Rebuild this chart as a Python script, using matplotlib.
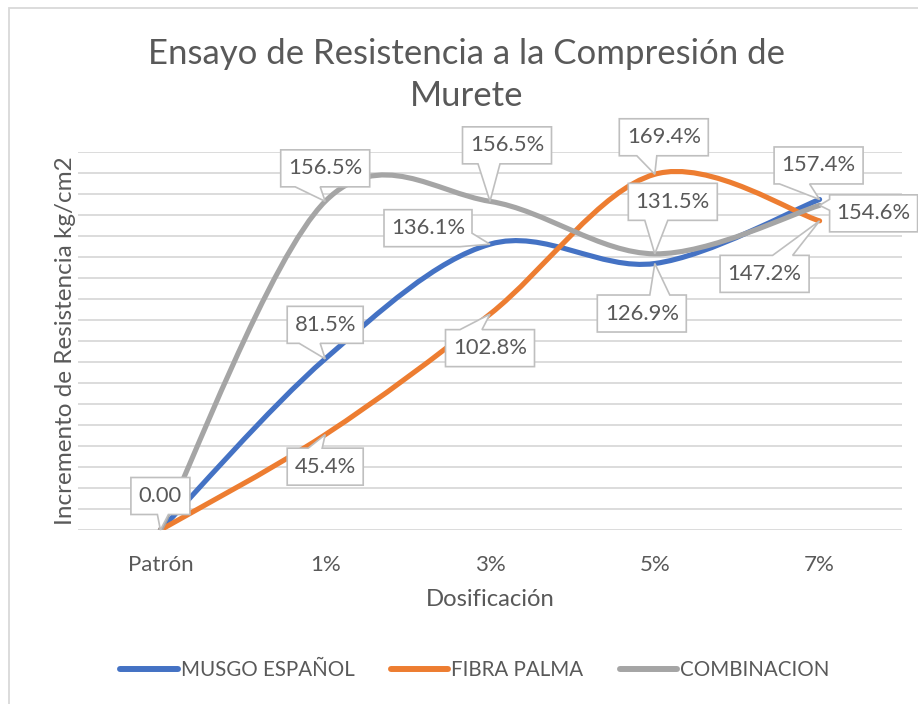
import numpy as np
import matplotlib.pyplot as plt
import matplotlib.transforms as mtransforms
from matplotlib.path import Path
from matplotlib.patches import PathPatch, Polygon, Rectangle
from matplotlib.lines import Line2D

plt.rcParams["font.family"] = ["Lato", "DejaVu Sans"]

# %% data
categories = ["Patrón", "1%", "3%", "5%", "7%"]
musgo = [0.0, 81.5, 136.1, 126.9, 157.4]
fibra = [0.0, 45.4, 102.8, 169.4, 147.2]
combinacion = [0.0, 156.5, 156.5, 131.5, 154.6]

series_names = ["MUSGO ESPAÑOL", "FIBRA PALMA", "COMBINACION"]
series_colors = ["#4472C4", "#ED7D31", "#A5A5A5"]

TXT = "#595959"
GRID = "#D9D9D9"

# callout layout, in pixels relative to the point (y up):
# (box centre dx, dy, width, pointer spec)
callouts = [
    # musgo
    [None,
     (0, 34, 76, ("b", -26, -5)),
     (-62, 16, 88, ("br", 11, -30)),
     (-13, -50, 89, ("t", -5, 15)),
     (-1, 34, 89, ("b", -40, -10))],
    # fibra
    [None,
     (0, -32, 76, ("t", -17, -3)),
     (0, -34, 89, ("t", -30, -8)),
     (9, 37, 89, ("b", -18, 2)),
     (-55, -53, 89, ("t", -47, -27))],
    # combinacion
    [(0, 34, 59, ("b", -3, 8)),
     (0, 33, 89, ("b", -30, -5)),
     (17, 56, 89, ("b", -12, 10)),
     (18, 52, 89, ("b", -10, 13)),
     (54, -8, 88, ("l", -5, 6))],
]
BOX_H = 37


def smooth_path(x, y):
    # excel-like smoothed line as cubic bezier segments
    pts = np.column_stack([x, y]).astype(float)
    n = len(pts)
    verts = [pts[0]]
    codes = [Path.MOVETO]
    for i in range(n - 1):
        p_prev = pts[i - 1] if i > 0 else pts[i]
        p_next = pts[i + 2] if i + 2 < n else pts[i + 1]
        c1 = pts[i] + (pts[i + 1] - p_prev) / 6
        c2 = pts[i + 1] - (p_next - pts[i]) / 6
        verts += [c1, c2, pts[i + 1]]
        codes += [Path.CURVE4] * 3
    return Path(verts, codes)


def callout(ax, x, y, text, spec):
    dx, dy, w, ptr = spec
    L, R = dx - w / 2, dx + w / 2
    B, T = dy - BOX_H / 2, dy + BOX_H / 2
    kind, a, b = ptr
    if kind == "b":
        v = [(L, T), (R, T), (R, B), (b, B), (0, 0), (a, B), (L, B)]
    elif kind == "t":
        v = [(L, T), (a, T), (0, 0), (b, T), (R, T), (R, B), (L, B)]
    elif kind == "l":
        v = [(L, T), (R, T), (R, B), (L, B), (L, a), (0, 0), (L, b)]
    else:  # bottom-right corner
        v = [(L, T), (R, T), (R, a), (0, 0), (b, B), (L, B)]
    trans = (mtransforms.Affine2D().scale(1 / fig.dpi) + fig.dpi_scale_trans
             + mtransforms.ScaledTranslation(x, y, ax.transData))
    ax.add_patch(Polygon(v, closed=True, transform=trans, fc="white",
                         ec="#BFBFBF", lw=1.2, zorder=5, clip_on=False))
    ax.annotate(text, xy=(x, y), xytext=(dx, dy), textcoords="offset pixels",
                ha="center", va="center", fontsize=15.8, color=TXT,
                zorder=6, annotation_clip=False)


# %%
fig = plt.figure(figsize=(9.18, 7.04), dpi=100)
ax = fig.add_axes([78 / 918, 1 - 530 / 704, 824 / 918, 378 / 704])

xpos = np.arange(len(categories))
all_series = [musgo, fibra, combinacion]
for vals, c in zip(all_series, series_colors):
    ax.add_patch(PathPatch(smooth_path(xpos, vals), fill=False, ec=c, lw=3.7,
                           capstyle="round", joinstyle="round", zorder=3))

for s, (vals, specs) in enumerate(zip(all_series, callouts)):
    for i, v in enumerate(vals):
        if specs[i] is None:
            continue
        lbl = "0.00" if v == 0 else f"{v:.1f}%"
        callout(ax, xpos[i], v, lbl, specs[i])

ax.set_xlim(-0.5, len(categories) - 0.5)
ax.set_ylim(0, 180)
ax.set_yticks(np.arange(0, 181, 10))
ax.set_yticklabels([])
ax.set_xticks(xpos)
ax.set_xticklabels(categories, fontsize=16, color=TXT)
ax.tick_params(length=0)
ax.tick_params(axis="x", pad=18)
ax.grid(axis="y", color=GRID, lw=1.3)
ax.set_axisbelow(True)
for sp in ax.spines.values():
    sp.set_visible(False)

ax.set_xlabel("Dosificación", fontsize=17.2, color=TXT, labelpad=10)
ax.set_ylabel("Incremento de Resistencia kg/cm2", fontsize=17.5, color=TXT, labelpad=-2)

fig.text(467 / 918, 1 - 75 / 704, "Ensayo de Resistencia a la Compresión de\nMurete",
         ha="center", va="center", fontsize=25, color=TXT,
         linespacing=1.42)

handles = [Line2D([], [], color=c, lw=4.3, solid_capstyle="round") for c in series_colors]
fig.legend(handles, series_names, loc="center", bbox_to_anchor=(475 / 918, 1 - 670 / 704),
           ncol=3, frameon=False, fontsize=14.8, labelcolor=TXT, handlelength=2.8,
           handletextpad=0.15, columnspacing=1.75)

fig.patches.append(Rectangle((8.5 / 918, -0.1), 1.2, 1.1 - 7.5 / 704, transform=fig.transFigure,
                             fill=False, ec=GRID, lw=1.3))

fig.savefig("out.png", dpi=100)
